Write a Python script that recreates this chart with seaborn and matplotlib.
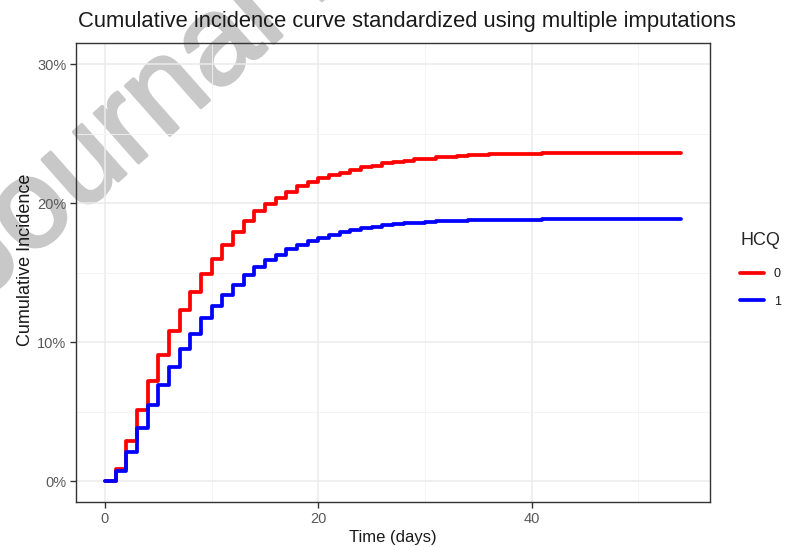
import numpy as np
import pandas as pd
import matplotlib
matplotlib.use("Agg")
import matplotlib.pyplot as plt
import matplotlib.patheffects as pe
from matplotlib.ticker import PercentFormatter, MultipleLocator
import seaborn as sns

# days since baseline
days = list(range(0, 55))
# cumulative incidence (%) for HCQ = 0
ci_hcq0 = [0.0, 0.9, 2.9, 5.1, 7.2, 9.1, 10.8, 12.3, 13.6, 14.9,
           16.0, 17.0, 17.9, 18.7, 19.4, 19.9, 20.4, 20.8, 21.2, 21.5,
           21.8, 22.0, 22.2, 22.4, 22.6, 22.7, 22.85, 22.95, 23.05, 23.15,
           23.2, 23.28, 23.34, 23.4, 23.44, 23.47, 23.5, 23.52, 23.54, 23.55,
           23.56, 23.57, 23.57, 23.58, 23.58, 23.59, 23.59, 23.6, 23.6, 23.6,
           23.6, 23.61, 23.61, 23.62, 23.62]
# cumulative incidence (%) for HCQ = 1
ci_hcq1 = [0.0, 0.7, 2.1, 3.8, 5.5, 6.9, 8.2, 9.5, 10.6, 11.7,
           12.6, 13.4, 14.1, 14.8, 15.4, 15.9, 16.3, 16.7, 17.0, 17.3,
           17.5, 17.7, 17.9, 18.05, 18.2, 18.3, 18.4, 18.48, 18.55, 18.6,
           18.65, 18.68, 18.71, 18.73, 18.75, 18.77, 18.78, 18.79, 18.8, 18.8,
           18.81, 18.82, 18.82, 18.83, 18.83, 18.84, 18.84, 18.85, 18.85, 18.86,
           18.86, 18.87, 18.87, 18.88, 18.88]

df = pd.DataFrame({
    "Time": days + days,
    "CI": ci_hcq0 + ci_hcq1,
    "HCQ": ["0"] * len(days) + ["1"] * len(days),
})

sns.set_style("white")
plt.rcParams["font.family"] = ["Liberation Sans", "DejaVu Sans"]

fig = plt.figure(figsize=(7.87, 5.47), dpi=100)
ax = fig.add_axes([0.0966, 0.0823, 0.8054, 0.8387])
ax.patch.set_alpha(0)  # let the watermark show behind the panel

#ggplot like grid
ax.xaxis.set_major_locator(MultipleLocator(20))
ax.xaxis.set_minor_locator(MultipleLocator(10))
ax.yaxis.set_major_locator(MultipleLocator(10))
ax.yaxis.set_minor_locator(MultipleLocator(5))
ax.grid(which="major", color="#EBEBEB", linewidth=1.1, zorder=0)
ax.grid(which="minor", color="#F3F3F3", linewidth=0.6, zorder=0)
ax.set_axisbelow(True)

sns.lineplot(data=df, x="Time", y="CI", hue="HCQ",
             palette={"0": "#FF0000", "1": "#0000FF"},
             drawstyle="steps-post", linewidth=2.7, estimator=None, ax=ax)

ax.set_xlim(-2.7, 56.7)
ax.set_ylim(-1.5, 31.5)
ax.yaxis.set_major_formatter(PercentFormatter(xmax=100, decimals=0))

for s in ax.spines.values():
    s.set_color("#333333")
    s.set_linewidth(1.0)
ax.tick_params(which="major", length=4, width=1.0, color="#333333",
               labelsize=10.5, labelcolor="#5A5A5A", bottom=True, left=True, pad=3)
ax.tick_params(which="minor", length=0)

ax.set_xlabel("Time (days)", fontsize=12, color="#1A1A1A", labelpad=3)
ax.set_ylabel("Cumulative Incidence", fontsize=13, color="#1A1A1A")
ax.yaxis.set_label_coords(-0.066, 0.527)
ax.set_title("Cumulative incidence curve standardized using multiple imputations",
             fontsize=15.85, color="#1A1A1A", pad=12, loc="left", x=0.003)

leg = ax.legend(title="HCQ", loc="center left", bbox_to_anchor=(1.03, 0.5055),
                frameon=False, fontsize=9, title_fontsize=13,
                handlelength=1.9, handletextpad=0.8, labelspacing=1.25)
leg._legend_box.align = "left"
leg._legend_box.sep = 13.5
for t in leg.get_texts():
    t.set_color("#1A1A1A")

# watermark, drawn behind the axes
fig.text(-0.024, 0.448, "Journal Pre-proof", fontsize=90,
         rotation=41.5, rotation_mode="anchor", ha="left", va="baseline",
         color="#C8C8C8", zorder=-1,
         path_effects=[pe.withStroke(linewidth=2.5, foreground="#C8C8C8")])

fig.savefig("out.png", dpi=100)
